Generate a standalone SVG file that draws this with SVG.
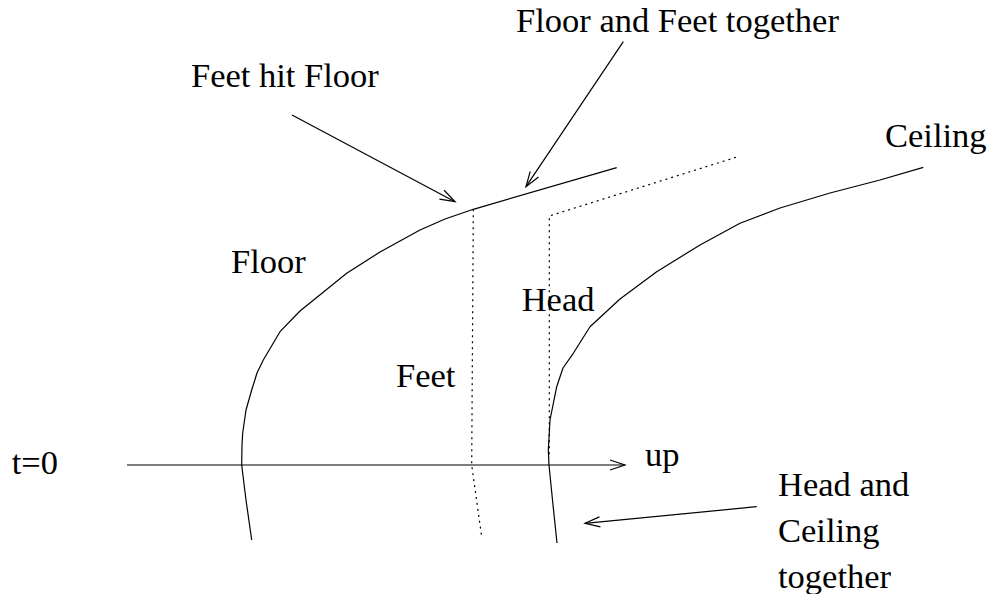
<svg xmlns="http://www.w3.org/2000/svg" width="992" height="594" viewBox="0 0 992 594">
<style>
  .ln { fill: none; stroke: #000; stroke-width: 1.2; stroke-linejoin: round; }
  .dot { fill: none; stroke: #000; stroke-width: 1.2; stroke-dasharray: 2 4; }
  .arr { fill: none; stroke: #000; stroke-width: 1.2; marker-end: url(#open); }
  text { font-family: "Liberation Serif", "Times New Roman", serif; font-size: 34.5px; fill: #000; }
</style>
<defs>
  <marker id="open" markerUnits="userSpaceOnUse" markerWidth="18" markerHeight="12" refX="15" refY="5" orient="auto" overflow="visible">
    <path d="M0,0 L15,5 L0,10" fill="none" stroke="#000" stroke-width="1.2"/>
  </marker>
</defs>
<rect width="992" height="594" fill="#fff"/>
<g id="floor">
  <polyline class="ln" points="251.7,540 246,500 241.7,465 242,445 242.7,433 246,410 251.7,390 257,373 263.3,360 280,331.7 300,311 346.7,273.3 380,252 420,230 445,219 473.3,209.3 616.7,167.7"/>
  <text x="231" y="273">Floor</text>
</g>
<g id="ceiling">
  <polyline class="ln" points="557,543 553,505 549,465 548.3,450 550,420 556.7,386.7 563,368 573.3,353.3 590,326.7 620,299 656.7,271.7 700,245 740,223.3 780,208 830,193 880,180 923.3,167.3"/>
  <text x="885" y="147">Ceiling</text>
</g>
<g id="feet">
  <polyline class="dot" points="473.3,209.3 471.7,465 481.7,537"/>
  <text x="396" y="387">Feet</text>
</g>
<g id="head">
  <polyline class="dot" points="736,157.3 549.3,216 549.3,455"/>
  <text x="521.7" y="311">Head</text>
</g>
<g id="axis">
  <line class="arr" x1="127" y1="465" x2="625" y2="465"/>
  <text x="11.7" y="474">t=0</text>
  <text x="645" y="466">up</text>
</g>
<g id="labels">
  <text x="191" y="87">Feet hit Floor</text>
  <text x="516" y="32">Floor and Feet together</text>
  <text x="778" y="496">Head and</text>
  <text x="778" y="542">Ceiling</text>
  <text x="778" y="588">together</text>
</g>
<g id="connectors">
  <line class="arr" x1="292" y1="115" x2="455" y2="201.7"/>
  <line class="arr" x1="623.3" y1="41.7" x2="526" y2="186.7"/>
  <line class="arr" x1="756.7" y1="506.7" x2="585" y2="523.3"/>
</g>
</svg>
